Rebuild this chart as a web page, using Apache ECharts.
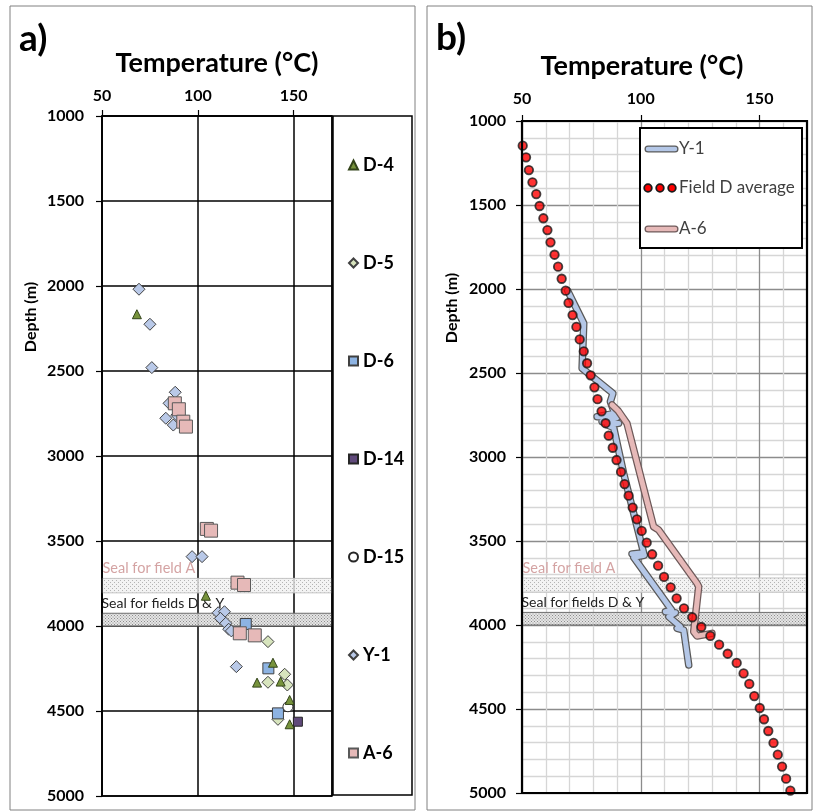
<!DOCTYPE html>
<html>
<head>
<meta charset="utf-8">
<script src="https://cdn.jsdelivr.net/npm/echarts@6/dist/echarts.min.js"></script>
<style>
  html, body { margin: 0; padding: 0; background: #fff; }
  #chart { width: 814px; height: 812px; }
</style>
</head>
<body>
<div id="chart"></div>
<script>
// axis ranges
var tempRange = [50, 170];
var depthRange = [1000, 5000];

// seal depth bands (m)
var sealFieldA = [3720, 3805];
var sealFieldDY = [3925, 4000];

// panel a) measured temperatures [temp °C, depth m]
var d4 = [[68.2, 2166], [104.2, 3822], [139.2, 4216], [130.9, 4333], [143.2, 4327], [147.9, 4435], [147.9, 4578]];
var d5 = [[136.6, 4092], [145.3, 4284], [136.6, 4331], [146.7, 4347], [141.8, 4549]];
var d6 = [[125, 3988], [136.8, 4249], [141.8, 4514]];
var d14 = [[152.2, 4563]];
var d15 = [[147, 4475]];
var y1 = [[69.3, 2019], [75, 2225], [76, 2480], [88.2, 2625], [85, 2690], [89, 2760], [83.3, 2778], [87.2, 2818],
  [97, 3592], [102.2, 3592], [110.6, 3922], [113.9, 3916], [111.8, 3955], [114.6, 3984], [116.1, 4019], [117.5, 4029], [120.1, 4239]];
var a6 = [[88, 2690], [90.1, 2725], [92.4, 2798], [93.8, 2827], [104.7, 3429], [106.9, 3439], [120.7, 3745], [124.1, 3759],
  [121.9, 4043], [129.7, 4055]];

// panel b) logs
var y1Log = [[69.2, 2010], [76, 2204], [75.3, 2472], [88.3, 2621], [87.2, 2671], [89, 2740], [81.6, 2760], [90, 2765],
  [83.7, 2790], [90.7, 2800], [86, 2810], [88.6, 2825], [92.8, 3097], [101.2, 3570], [96.3, 3577], [101.5, 3585],
  [97, 3597], [113, 3911], [110.4, 3921], [114.6, 3927], [111.8, 3951], [116.7, 4010], [115.3, 4020], [118.1, 4030], [120.2, 4238]];
var a6Log = [[87.9, 2690], [90.5, 2725], [94.2, 2800], [105.4, 3415], [107.5, 3434], [123.7, 3752], [124.4, 3772],
  [122.3, 4040], [123.7, 4066], [130, 4050]];
var fieldD = [[50.3, 1147], [51.7, 1216], [52.9, 1292], [54.4, 1365], [56.0, 1435], [57.4, 1506], [59.0, 1579], [60.7, 1649],
  [62.0, 1722], [63.7, 1796], [65.2, 1867], [66.7, 1939], [68.4, 2010], [69.6, 2083], [71.3, 2155], [72.9, 2226],
  [74.3, 2300], [76.0, 2371], [77.4, 2442], [78.9, 2514], [80.5, 2585], [81.8, 2656], [83.5, 2728], [85.2, 2799],
  [86.5, 2873], [88.2, 2945], [89.8, 3018], [91.7, 3089], [93.2, 3161], [94.9, 3230], [96.6, 3301], [98.4, 3371],
  [100.4, 3440], [102.5, 3510], [104.8, 3579], [107.3, 3647], [109.8, 3714], [112.6, 3776], [115.1, 3841], [118.2, 3901],
  [121.7, 3954], [125.5, 4012], [129.3, 4065], [133.0, 4117], [136.6, 4171], [140.4, 4226], [143.3, 4288], [145.7, 4351],
  [147.8, 4423], [150.1, 4494], [151.9, 4561], [153.7, 4631], [155.9, 4702], [157.7, 4772], [159.5, 4843], [161.2, 4915],
  [163.0, 4986]];

var FONT = 'Lato';

// dotted fill for the seal bands
function dots(bg, fg, step) {
  var c = document.createElement('canvas');
  c.width = step; c.height = step;
  var g = c.getContext('2d');
  g.fillStyle = bg; g.fillRect(0, 0, step, step);
  g.fillStyle = fg;
  g.fillRect(0, 0, 1, 1);
  g.fillRect(step / 2, step / 2, 1, 1);
  return c;
}
var fillA = { image: dots('rgba(240,240,240,0.8)', '#b4b4b4', 4), repeat: 'repeat' };
var fillDY = { image: dots('rgba(225,225,225,0.85)', '#8c8c8c', 3), repeat: 'repeat' };

function seals(fontSize) {
  return {
    silent: true,
    data: [
      [{
        yAxis: sealFieldA[0],
        itemStyle: { color: fillA, borderColor: '#c4c4c4', borderWidth: 1 },
        label: { show: true, formatter: 'Seal for field A', position: [1, -17], align: 'left',
          color: '#d4a3a3', fontSize: fontSize, fontFamily: FONT }
      }, { yAxis: sealFieldA[1] }],
      [{
        yAxis: sealFieldDY[0],
        itemStyle: { color: fillDY, borderColor: '#6e6e6e', borderWidth: 1 },
        label: { show: true, formatter: 'Seal for fields D & Y', position: [0, -16], align: 'left',
          color: '#222', fontSize: fontSize - 0.5, fontFamily: FONT }
      }, { yAxis: sealFieldDY[1] }]
    ]
  };
}

function plain(v) { return String(v); }
var boldLabel = { fontFamily: FONT, fontWeight: 'bold', fontSize: 16, color: '#000', formatter: plain };

function pointSeries(name, data, symbol, size, color, border) {
  return {
    name: name, type: 'scatter', xAxisIndex: 0, yAxisIndex: 0,
    data: data, symbol: symbol, symbolSize: size,
    itemStyle: { color: color, borderColor: border, borderWidth: 1, opacity: 1 }
  };
}

var chart = echarts.init(document.getElementById('chart'));

var series = [
  pointSeries('D-4', d4, 'triangle', 9, '#77933c', '#33441a'),
  pointSeries('D-5', d5, 'diamond', 12, '#d7e4bd', '#404040'),
  pointSeries('D-6', d6, 'rect', 11, '#8db3e2', '#404040'),
  pointSeries('D-14', d14, 'rect', 9, '#604a7b', '#262626'),
  pointSeries('D-15', d15, 'circle', 10, '#ffffff', '#262626'),
  pointSeries('Y-1', y1, 'diamond', 12, '#b9c9e8', '#404040'),
  pointSeries('A-6', a6, 'rect', 13, '#e6b9b8', '#595959')
];
series[0].markArea = seals(14.5);
series[0].z = 3;

function logSeries(data, color, width, z) {
  return {
    type: 'line', xAxisIndex: 1, yAxisIndex: 1, data: data, symbol: 'none', silent: true, z: z,
    lineStyle: { color: color, width: width, cap: 'round', join: 'round' }
  };
}
var y1Outline = logSeries(y1Log, '#5a5a5a', 7.5, 2);
y1Outline.markArea = seals(14.5);
series.push(y1Outline);
series.push(logSeries(y1Log, '#b4c7e7', 5, 3));
series.push(logSeries(a6Log, '#6e5a5a', 7.5, 4));
series.push(logSeries(a6Log, '#e6b9b8', 5, 5));
series.push({
  type: 'scatter', xAxisIndex: 1, yAxisIndex: 1, data: fieldD, symbol: 'circle', symbolSize: 8.5, z: 6,
  itemStyle: { color: '#ff0000', borderColor: '#1a1a1a', borderWidth: 1.8 }
});

var minorCols = ['#8c8c8c', '#d6d6d6', '#d6d6d6', '#d6d6d6', '#d6d6d6'];

var option = {
  animation: false,
  textStyle: { fontFamily: FONT },
  grid: [
    { left: 102, top: 116, width: 230, height: 680 },
    { left: 522, top: 121, width: 285, height: 672 }
  ],
  xAxis: [
    {
      gridIndex: 0, type: 'value', position: 'top', min: tempRange[0], max: tempRange[1], interval: 50,
      axisLine: { show: true, lineStyle: { color: '#000', width: 1.5 } },
      axisTick: { show: true, inside: false, length: 6, lineStyle: { color: '#000', width: 1.2 } },
      axisLabel: Object.assign({ margin: 12, showMaxLabel: false }, boldLabel),
      splitLine: { show: true, lineStyle: { color: '#000', width: 1.5 } }
    },
    {
      gridIndex: 1, type: 'value', position: 'top', min: tempRange[0], max: tempRange[1], interval: 50,
      axisLine: { show: true, lineStyle: { color: '#000', width: 2 } },
      axisTick: { show: true, inside: false, length: 6, lineStyle: { color: '#000', width: 1.2 } },
      axisLabel: Object.assign({ margin: 14, showMaxLabel: false }, boldLabel),
      splitLine: { show: false }
    },
    {
      gridIndex: 1, type: 'value', position: 'top', min: tempRange[0], max: tempRange[1], interval: 10,
      axisLine: { show: false }, axisTick: { show: false }, axisLabel: { show: false },
      splitLine: { show: true, lineStyle: { color: minorCols, width: 1.3 } }
    }
  ],
  yAxis: [
    {
      gridIndex: 0, type: 'value', inverse: true, min: depthRange[0], max: depthRange[1], interval: 500,
      axisLine: { show: true, lineStyle: { color: '#000', width: 1.5 } },
      axisTick: { show: true, inside: false, length: 6, lineStyle: { color: '#000', width: 1.2 } },
      axisLabel: Object.assign({ margin: 18 }, boldLabel),
      splitLine: { show: true, lineStyle: { color: '#000', width: 1.5 } }
    },
    {
      gridIndex: 1, type: 'value', inverse: true, min: depthRange[0], max: depthRange[1], interval: 500,
      axisLine: { show: true, lineStyle: { color: '#000', width: 2 } },
      axisTick: { show: true, inside: false, length: 6, lineStyle: { color: '#000', width: 1.2 } },
      axisLabel: Object.assign({ margin: 16 }, boldLabel),
      splitLine: { show: true, lineStyle: { color: '#8c8c8c', width: 1.3 } },
      minorTick: { show: false, splitNumber: 5 },
      minorSplitLine: { show: true, lineStyle: { color: '#d6d6d6', width: 1.3 } }
    }
  ],
  legend: {
    data: ['D-4', 'D-5', 'D-6', 'D-14', 'D-15', 'Y-1', 'A-6'],
    orient: 'vertical', left: 343, top: 151, itemGap: 80, itemWidth: 9, itemHeight: 9,
    textStyle: { fontFamily: FONT, fontWeight: 'bold', fontSize: 18, color: '#000', lineHeight: 17 },
    selectedMode: false
  },
  graphic: [
    // panel frames
    { type: 'rect', shape: { x: 10, y: 6, width: 405, height: 804 }, style: { fill: 'none', stroke: '#808080', lineWidth: 1 }, silent: true },
    { type: 'rect', shape: { x: 427, y: 6, width: 385, height: 804 }, style: { fill: 'none', stroke: '#808080', lineWidth: 1 }, silent: true },
    // plot borders
    { type: 'rect', shape: { x: 102, y: 116, width: 230, height: 680 }, style: { fill: 'none', stroke: '#000', lineWidth: 1.5 }, z: 10, silent: true },
    { type: 'rect', shape: { x: 333, y: 116, width: 79, height: 679 }, style: { fill: 'none', stroke: '#000', lineWidth: 1.5 }, z: 10, silent: true },
    { type: 'rect', shape: { x: 522, y: 121, width: 285, height: 672 }, style: { fill: 'none', stroke: '#000', lineWidth: 2.2 }, z: 10, silent: true },
    // titles
    { type: 'text', x: 19, y: 39, style: { text: 'a)', font: 'bold 37px Lato', fill: '#000', textVerticalAlign: 'middle' } },
    { type: 'text', x: 436, y: 38, style: { text: 'b)', font: 'bold 37px Lato', fill: '#000', textVerticalAlign: 'middle' } },
    { type: 'text', x: 217, y: 63, style: { text: 'Temperature (°C)', font: 'bold 27px Lato', fill: '#000', textAlign: 'center', textVerticalAlign: 'middle' } },
    { type: 'text', x: 642, y: 66, style: { text: 'Temperature (°C)', font: 'bold 27px Lato', fill: '#000', textAlign: 'center', textVerticalAlign: 'middle' } },
    { type: 'text', x: 31, y: 317, rotation: Math.PI / 2, style: { text: 'Depth (m)', font: 'bold 16px Lato', fill: '#000', textAlign: 'center', textVerticalAlign: 'middle' } },
    { type: 'text', x: 452, y: 308, rotation: Math.PI / 2, style: { text: 'Depth (m)', font: 'bold 16px Lato', fill: '#000', textAlign: 'center', textVerticalAlign: 'middle' } },
    // panel b legend
    { type: 'rect', z: 20, shape: { x: 640, y: 128, width: 162, height: 120 }, style: { fill: '#fff', stroke: '#000', lineWidth: 2 } },
    { type: 'line', z: 21, shape: { x1: 648, y1: 149, x2: 675, y2: 149 }, style: { stroke: '#5a5a5a', lineWidth: 7, lineCap: 'round' } },
    { type: 'line', z: 22, shape: { x1: 648, y1: 149, x2: 675, y2: 149 }, style: { stroke: '#b4c7e7', lineWidth: 4.5, lineCap: 'round' } },
    { type: 'text', z: 22, x: 679, y: 149, style: { text: 'Y-1', font: '17px Lato', fill: '#404040', textVerticalAlign: 'middle' } },
    { type: 'circle', z: 22, shape: { cx: 648, cy: 188, r: 3.8 }, style: { fill: '#ff0000', stroke: '#1a1a1a', lineWidth: 1.8 } },
    { type: 'circle', z: 22, shape: { cx: 660, cy: 188, r: 3.8 }, style: { fill: '#ff0000', stroke: '#1a1a1a', lineWidth: 1.8 } },
    { type: 'circle', z: 22, shape: { cx: 672, cy: 188, r: 3.8 }, style: { fill: '#ff0000', stroke: '#1a1a1a', lineWidth: 1.8 } },
    { type: 'text', z: 22, x: 679, y: 188, style: { text: 'Field D average', font: '17px Lato', fill: '#404040', textVerticalAlign: 'middle' } },
    { type: 'line', z: 21, shape: { x1: 648, y1: 229, x2: 675, y2: 229 }, style: { stroke: '#6e5a5a', lineWidth: 7, lineCap: 'round' } },
    { type: 'line', z: 22, shape: { x1: 648, y1: 229, x2: 675, y2: 229 }, style: { stroke: '#e6b9b8', lineWidth: 4.5, lineCap: 'round' } },
    { type: 'text', z: 22, x: 679, y: 229, style: { text: 'A-6', font: '17px Lato', fill: '#404040', textVerticalAlign: 'middle' } }
  ],
  series: series
};

chart.setOption(option);
</script>
</body>
</html>
